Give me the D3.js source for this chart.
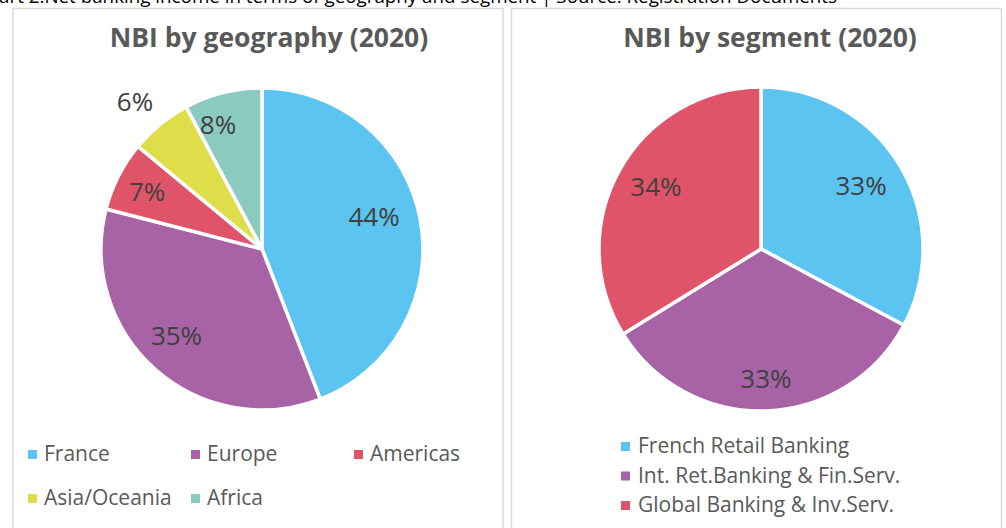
<!DOCTYPE html>
<html><head><meta charset="utf-8">
<script src="https://cdn.jsdelivr.net/npm/d3@7"></script>
<style>
html,body{margin:0;padding:0;background:#fff;overflow:hidden}
svg{display:block;font-family:"Open Sans",sans-serif}
</style></head>
<body><svg id="c" width="1006" height="528"></svg>
<script>
const caption = "Chart 2.Net banking income in terms of geography and segment | Source: Registration Documents";
const geoTitle = "NBI by geography (2020)";
const geoCategories = ["France", "Europe", "Americas", "Asia/Oceania", "Africa"];
const geoValues = [44.1, 34.9, 7.0, 6.2, 7.8];
const geoColors = ["#5BC4F1", "#A763A6", "#E05469", "#DEDE4B", "#8ACAC0"];
const segTitle = "NBI by segment (2020)";
const segCategories = ["French Retail Banking", "Int. Ret.Banking & Fin.Serv.", "Global Banking & Inv.Serv."];
const segValues = [32.8, 33.4, 33.8];
const segColors = ["#5BC4F1", "#A763A6", "#E05469"];

const svg = d3.select("#c");

svg.append("text").attr("x", 837).attr("y", 3).attr("text-anchor", "end")
  .attr("font-size", 18.8).attr("fill", "#000").text(caption);

// panels
svg.append("rect").attr("x", 13).attr("y", 8.5).attr("width", 490).attr("height", 540)
  .attr("fill", "none").attr("stroke", "#d9d9d9").attr("stroke-width", 1.5);
svg.append("rect").attr("x", 511.5).attr("y", 8.5).attr("width", 490).attr("height", 540)
  .attr("fill", "none").attr("stroke", "#d9d9d9").attr("stroke-width", 1.5);

function drawPie(cfg) {
  const g = svg.append("g").attr("transform", `translate(${cfg.cx},${cfg.cy})`);
  const pie = d3.pie().sort(null).value(d => d)(cfg.values);
  const arc = d3.arc().innerRadius(0).outerRadius(cfg.r);
  g.selectAll("path").data(pie).join("path")
    .attr("d", arc).attr("fill", (d, i) => cfg.colors[i])
    .attr("stroke", "#fff").attr("stroke-width", 3.5).attr("stroke-linejoin", "round");
  g.selectAll("text.lbl").data(pie).join("text").attr("class", "lbl")
    .attr("transform", (d, i) => {
      const a = (d.startAngle + d.endAngle) / 2 + cfg.labelDA[i] * Math.PI / 180;
      const rr = cfg.r * cfg.labelR[i];
      return `translate(${Math.sin(a) * rr},${-Math.cos(a) * rr})`;
    })
    .attr("text-anchor", "middle").attr("dy", "0.36em")
    .attr("font-size", 26).attr("fill", "#404040")
    .text(d => Math.round(d.data) + "%");
  svg.append("text").attr("x", cfg.titleX).attr("y", 47).attr("text-anchor", "middle")
    .attr("font-size", 26.5).attr("font-weight", "bold").attr("fill", "#595959").text(cfg.title);
}

drawPie({cx: 262, cy: 249, r: 161, values: geoValues, colors: geoColors,
  labelR: [0.724, 0.758, 0.797, 1.206, 0.817], labelDA: [-5.3, 2.9, -0.6, -1.6, -5.5],
  title: geoTitle, titleX: 269});
drawPie({cx: 761, cy: 249, r: 162, values: segValues, colors: segColors,
  labelR: [0.73, 0.80, 0.753], labelDA: [-1.2, -0.4, 1.4], title: segTitle, titleX: 770});

// legend geography
const geoPos = [[28, 461], [191, 461], [354, 461], [28, 505], [191, 505]];
const lg = svg.append("g").selectAll("g").data(geoCategories).join("g")
  .attr("transform", (d, i) => `translate(${geoPos[i][0]},${geoPos[i][1]})`);
lg.append("rect").attr("x", 0).attr("y", -11).attr("width", 9).attr("height", 9)
  .attr("fill", (d, i) => geoColors[i]);
lg.append("text").attr("x", 16).attr("y", 0).attr("font-size", 21).attr("fill", "#595959").text(d => d);

// legend segment
const ls = svg.append("g").selectAll("g").data(segCategories).join("g")
  .attr("transform", (d, i) => `translate(621,${453 + i * 29.5})`);
ls.append("rect").attr("x", 0).attr("y", -11).attr("width", 9).attr("height", 9)
  .attr("fill", (d, i) => segColors[i]);
ls.append("text").attr("x", 17).attr("y", 0).attr("font-size", 21).attr("fill", "#595959").text(d => d);
</script></body></html>
